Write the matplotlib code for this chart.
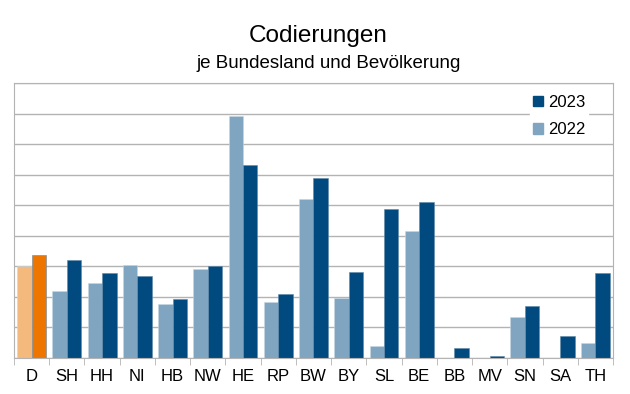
import matplotlib.pyplot as plt
import numpy as np
from matplotlib.patches import Patch

plt.rcParams['font.family'] = ['Liberation Sans', 'DejaVu Sans']

laender = ['D', 'SH', 'HH', 'NI', 'HB', 'NW', 'HE', 'RP', 'BW', 'BY',
           'SL', 'BE', 'BB', 'MV', 'SN', 'SA', 'TH']
werte_2022 = [3.02, 2.19, 2.44, 3.03, 1.78, 2.93, 7.94, 1.83, 5.19, 1.97,
              0.40, 4.16, 0.0, 0.0, 1.35, 0.0, 0.49]
werte_2023 = [3.37, 3.22, 2.79, 2.69, 1.93, 3.01, 6.33, 2.08, 5.91, 2.80,
              4.87, 5.12, 0.32, 0.08, 1.70, 0.72, 2.79]

hell = ['#f4b97c'] + ['#7fa5c0'] * (len(laender) - 1)
dunkel = ['#ee7600'] + ['#004a7f'] * (len(laender) - 1)

fig = plt.figure(figsize=(6.3, 3.94), dpi=100)
ax = fig.add_axes([0.0222, 0.0914, 0.9508, 0.6976])

x = np.arange(len(laender))
w = 0.41
ax.bar(x - w / 2, werte_2022, w, color=hell, edgecolor='#c8d8e4', linewidth=0.4, zorder=2)
ax.bar(x + w / 2, werte_2023, w, color=dunkel, edgecolor='#5f88a8', linewidth=0.4, zorder=2)

ax.set_xlim(-0.5, len(laender) - 0.5)
ax.set_ylim(0, 9)
ax.set_yticks(np.arange(0, 10, 1))
ax.set_yticklabels([])
ax.tick_params(axis='y', length=0)
ax.grid(axis='y', color='#b3b3b3', linewidth=1, zorder=0)

ax.set_xticks(x)
ax.set_xticklabels(laender, fontsize=12)
ax.set_xticks(np.arange(-0.5, len(laender)), minor=True)
ax.tick_params(axis='x', which='major', length=0, pad=8)
ax.tick_params(axis='x', which='minor', length=5, color='#b3b3b3')

for s in ax.spines.values():
    s.set_color('#b3b3b3')

handles = [Patch(color='#004a7f', label='2023'), Patch(color='#7fa5c0', label='2022')]
leg = ax.legend(handles=handles, loc='upper right', bbox_to_anchor=(0.973, 0.997),
                frameon=True, fontsize=12, handlelength=0.6, handleheight=0.6,
                handletextpad=0.35, labelspacing=0.76, borderpad=0.15)
leg.get_frame().set_edgecolor('white')
leg.get_frame().set_alpha(1)
leg.get_frame().set_boxstyle('square', pad=0)

fig.text(0.505, 0.908, 'Codierungen', ha='center', va='center', fontsize=17.5)
fig.text(0.522, 0.84, 'je Bundesland und Bevölkerung', ha='center', va='center', fontsize=13.5)

fig.savefig('out.png', dpi=100)
